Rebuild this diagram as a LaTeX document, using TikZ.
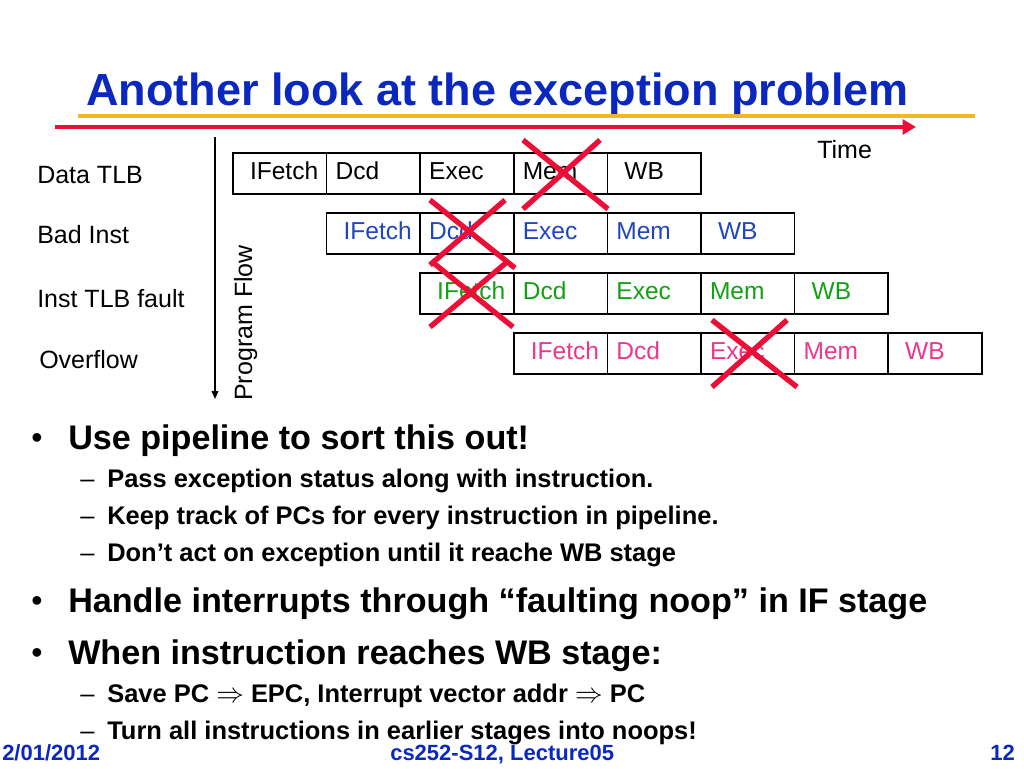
\documentclass[tikz,border=0pt]{standalone}
\usepackage{fontspec}
\setmainfont{Liberation Sans}
\usetikzlibrary{positioning,arrows.meta}

\definecolor{titleblue}{RGB}{10,40,190}
\definecolor{rowblue}{RGB}{30,70,190}
\definecolor{rowgreen}{RGB}{20,160,20}
\definecolor{rowpink}{RGB}{235,55,140}
\definecolor{xred}{RGB}{235,15,55}
\definecolor{rulegold}{RGB}{240,185,35}

\newcommand{\stagepad}{\hspace*{6pt}}

\begin{document}
\begin{tikzpicture}[x=0.75pt, y=-0.75pt,
  every node/.style={inner sep=0pt},
  title/.style={anchor=base west, text=titleblue,
                font=\fontsize{33.75}{40}\selectfont\bfseries},
  lbl/.style={anchor=base west, font=\fontsize{18.75}{22}\selectfont},
  stage/.style={draw, line width=1.1pt, outer sep=0pt,
                minimum width=70.2pt, minimum height=30.75pt,
                text width=70.2pt, align=left, text height=13.5pt, text depth=4.5pt,
                execute at begin node=\hspace*{6.75pt},
                font=\fontsize{18.4}{22}\selectfont},
  badstage/.style={stage, text=rowblue},
  itlbstage/.style={stage, text=rowgreen},
  ovflstage/.style={stage, text=rowpink},
  bulletdot/.style={anchor=base west, font=\fontsize{24}{28}\selectfont},
  subdash/.style={anchor=base west, font=\fontsize{19.1}{23}\selectfont},
  lvlone/.style={anchor=base west, font=\fontsize{25.6}{30}\selectfont\bfseries},
  lvltwo/.style={anchor=base west, font=\fontsize{19.1}{23}\selectfont\bfseries},
  foot/.style={anchor=base west, text=titleblue, font=\fontsize{16.5}{20}\selectfont\bfseries},
  timeline/.style={draw=xred, line width=3.4pt, -{Triangle[length=10pt, width=11pt]}},
  goldrule/.style={draw=rulegold, line width=3pt},
  flowarrow/.style={line width=1.1pt, -{Triangle[length=6pt, width=5pt]}},
  kill/.style={draw=xred, line width=4pt},
]
\useasboundingbox (0,0) rectangle (1024,768);

% ---- title and rules -------------------------------------------------
\node[title] (ttl) at (86,105) {Another look at the exception problem};
\coordinate (g0) at (78,116);
\coordinate (g1) at (975,116);
\draw[goldrule] (g0) -- (g1);
\coordinate (t0) at (55,127);
\coordinate (t1) at (916,127);
\draw[timeline] (t0) -- (t1);
\node[lbl] (time) at (817,158) {Time};

% ---- exception labels and program flow -------------------------------
\node[lbl] (dtlb) at (37,183) {Data TLB};
\node[lbl] (badi) at (37,243) {Bad Inst};
\node[lbl] (itlb) at (37,307) {Inst TLB fault};
\node[lbl] (ovfl) at (39,368) {Overflow};

\coordinate (pf0) at (215,137);
\coordinate (pf1) at (215,399);
\draw[flowarrow] (pf0) -- (pf1);
\node[lbl, rotate=90] (pflow) at (252,401) {Program Flow};

% ---- pipeline rows ---------------------------------------------------
\node[stage] (a1) at (279.8,173.5)    {\stagepad IFetch};
\node[stage, right=0pt of a1] (a2)    {Dcd};
\node[stage, right=0pt of a2] (a3)    {Exec};
\node[stage, right=0pt of a3] (a4)    {Mem};
\node[stage, right=0pt of a4] (a5)    {\stagepad WB};

\node[badstage] (b1) at (373.4,233.5) {\stagepad IFetch};
\node[badstage, right=0pt of b1] (b2) {Dcd};
\node[badstage, right=0pt of b2] (b3) {Exec};
\node[badstage, right=0pt of b3] (b4) {Mem};
\node[badstage, right=0pt of b4] (b5) {\stagepad WB};

\node[itlbstage] (c1) at (467,293.5)  {\stagepad IFetch};
\node[itlbstage, right=0pt of c1] (c2) {Dcd};
\node[itlbstage, right=0pt of c2] (c3) {Exec};
\node[itlbstage, right=0pt of c3] (c4) {Mem};
\node[itlbstage, right=0pt of c4] (c5) {\stagepad WB};

\node[ovflstage] (d1) at (560.6,353.5) {\stagepad IFetch};
\node[ovflstage, right=0pt of d1] (d2) {Dcd};
\node[ovflstage, right=0pt of d2] (d3) {Exec};
\node[ovflstage, right=0pt of d3] (d4) {Mem};
\node[ovflstage, right=0pt of d4] (d5) {\stagepad WB};

% ---- crossed out stages ----------------------------------------------
\draw[kill] (523,140) -- (608,209) (523,209) -- (600,140);
\draw[kill] (430,200) -- (515,268) (430,265) -- (505,200);
\draw[kill] (431,261) -- (513,327) (430,327) -- (507,262);
\draw[kill] (712,320) -- (797,387) (712,387) -- (787,320);

% ---- bullets ---------------------------------------------------------
\node[bulletdot] (u1) at (31,448) {•};
\node[lvlone] (u1t) at (68,449) {Use pipeline to sort this out!};
\node[subdash] (u11) at (80,487) {–};
\node[lvltwo] (u11t) at (107,487) {Pass exception status along with instruction.};
\node[subdash] (u12) at (80,524) {–};
\node[lvltwo] (u12t) at (107,524) {Keep track of PCs for every instruction in pipeline.};
\node[subdash] (u13) at (80,561) {–};
\node[lvltwo] (u13t) at (107,561) {Don’t act on exception until it reache WB stage};
\node[bulletdot] (u2) at (31,611) {•};
\node[lvlone] (u2t) at (68,612) {Handle interrupts through “faulting noop” in IF stage};
\node[bulletdot] (u3) at (31,663) {•};
\node[lvlone] (u3t) at (68,664) {When instruction reaches WB stage:};
\node[subdash] (u31) at (80,702) {–};
\node[lvltwo] (u31t) at (107,702) {Save PC $\Rightarrow$ EPC, Interrupt vector addr $\Rightarrow$ PC};
\node[subdash] (u32) at (80,739) {–};
\node[lvltwo] (u32t) at (107,739) {Turn all instructions in earlier stages into noops!};

% ---- footer ----------------------------------------------------------
\node[foot] (date) at (2,760) {2/01/2012};
\node[foot] (course) at (390,760) {cs252-S12, Lecture05};
\node[foot, anchor=base east] (page) at (1015,760) {12};

\end{tikzpicture}
\end{document}
